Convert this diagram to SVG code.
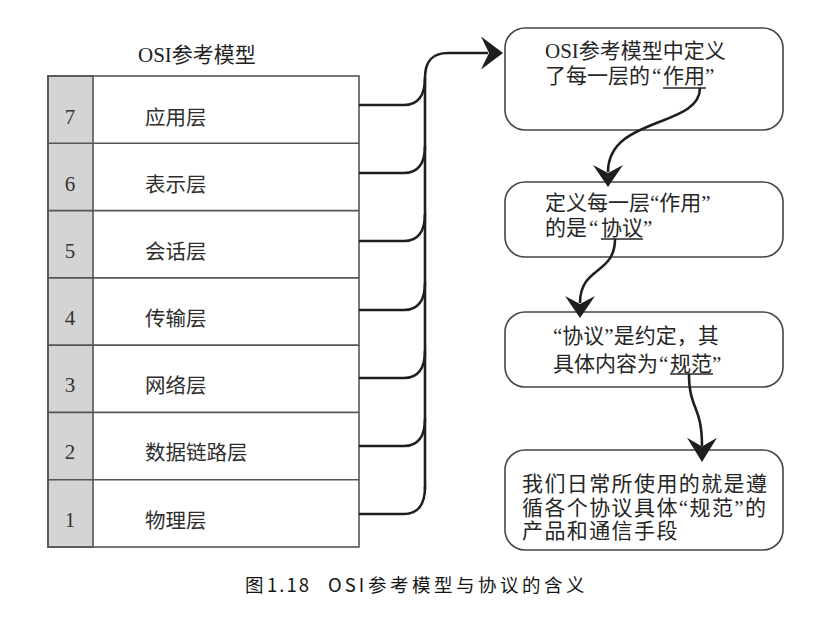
<svg xmlns="http://www.w3.org/2000/svg" xmlns:xlink="http://www.w3.org/1999/xlink" width="826" height="627" viewBox="0 0 826 627">
  <style>
    .bg { fill: #ffffff; }
    .frame { fill: none; stroke: #555; stroke-width: 1.6; }
    .num-col { fill: #d4d4d4; stroke: #555; stroke-width: 1.6; }
    .row-line { stroke: #555; stroke-width: 1.6; }
    .num { font-family: "Liberation Serif", "Noto Sans CJK SC", serif; font-size: 21px; fill: #333; text-anchor: middle; }
    .layer { font-family: "Liberation Serif", "Noto Sans CJK SC", serif; font-size: 20.5px; fill: #2e2e2e; }
    .title { font-family: "Liberation Serif", "Noto Sans CJK SC", serif; font-size: 21px; fill: #222; }
    .box { fill: #fff; stroke: #444; stroke-width: 1.6; }
    .note { font-family: "Liberation Serif", "Noto Sans CJK SC", serif; font-size: 21px; fill: #262626; }
    .note-sans { font-family: "Liberation Serif", "Noto Sans CJK SC", sans-serif; font-size: 21px; fill: #262626; letter-spacing: 1.4px; }
    .uline { stroke: #262626; stroke-width: 1.6; }
    .wire { fill: none; stroke: #1e1e1e; stroke-width: 2.6; }
    .head { fill: #1e1e1e; }
    .caption { font-family: "Noto Sans CJK SC", sans-serif; font-size: 18.5px; fill: #151515; }
  </style>
  <defs>
    <!-- notched arrowhead pointing down, tip at the origin -->
    <path id="arrow-down" class="head" d="M0,0 L-15,-22 L0,-14 L15,-22 Z"/>
  </defs>

  <rect class="bg" x="0" y="0" width="826" height="627"/>

  <!-- OSI layer stack -->
  <g id="osi-model">
    <text class="title" x="138" y="62">OSI参考模型</text>
    <rect class="num-col" x="48" y="76" width="45" height="471"/>
    <rect class="frame" x="48" y="76" width="311" height="471"/>
    <line class="row-line" x1="48" y1="143.3" x2="359" y2="143.3"/>
    <line class="row-line" x1="48" y1="210.6" x2="359" y2="210.6"/>
    <line class="row-line" x1="48" y1="277.9" x2="359" y2="277.9"/>
    <line class="row-line" x1="48" y1="345.1" x2="359" y2="345.1"/>
    <line class="row-line" x1="48" y1="412.4" x2="359" y2="412.4"/>
    <line class="row-line" x1="48" y1="479.7" x2="359" y2="479.7"/>
  </g>
  <g id="layer-7"><text class="num" x="70" y="124">7</text><text class="layer" x="145" y="125">应用层</text></g>
  <g id="layer-6"><text class="num" x="70" y="191">6</text><text class="layer" x="145" y="192">表示层</text></g>
  <g id="layer-5"><text class="num" x="70" y="258">5</text><text class="layer" x="145" y="259">会话层</text></g>
  <g id="layer-4"><text class="num" x="70" y="325">4</text><text class="layer" x="145" y="326">传输层</text></g>
  <g id="layer-3"><text class="num" x="70" y="392">3</text><text class="layer" x="145" y="393">网络层</text></g>
  <g id="layer-2"><text class="num" x="70" y="459">2</text><text class="layer" x="145" y="460">数据链路层</text></g>
  <g id="layer-1"><text class="num" x="70" y="527">1</text><text class="layer" x="145" y="528">物理层</text></g>

  <!-- explanation boxes -->
  <g id="box-role">
    <rect class="box" x="505" y="28" width="278" height="102" rx="20" ry="20"/>
    <text class="note" x="545" y="58">OSI参考模型中定义</text>
    <text class="note" x="545" y="83">了每一层的<tspan x="652">“</tspan><tspan x="663">作用</tspan>”</text>
    <line class="uline" x1="663" y1="88" x2="706" y2="88"/>
  </g>
  <g id="box-protocol">
    <rect class="box" x="505" y="182" width="278" height="75" rx="20" ry="20"/>
    <text class="note" x="545" y="210">定义每一层“作用”</text>
    <text class="note" x="545" y="235">的是<tspan x="589">“</tspan><tspan x="601">协议</tspan>”</text>
    <line class="uline" x1="601" y1="239" x2="643" y2="239"/>
  </g>
  <g id="box-spec">
    <rect class="box" x="505" y="312" width="278" height="75" rx="20" ry="20"/>
    <text class="note" x="553" y="343">“协议”是约定，其</text>
    <text class="note" x="553" y="371">具体内容为<tspan x="659">“</tspan><tspan x="670">规范</tspan>”</text>
    <line class="uline" x1="670" y1="374" x2="713" y2="374"/>
  </g>
  <g id="box-products">
    <rect class="box" x="505" y="450" width="278" height="100" rx="20" ry="20"/>
    <text class="note-sans" x="522" y="491">我们日常所使用的就是遵</text>
    <text class="note-sans" x="522" y="515">循各个协议具体“规范”的</text>
    <text class="note-sans" x="522" y="538">产品和通信手段</text>
  </g>

  <!-- connectors -->
  <g id="connectors">
    <path class="wire" d="M359,105 L404,105 C418,105 425,95 425,78"/>
    <path class="wire" d="M359,173 L404,173 C418,173 425,163 425,146"/>
    <path class="wire" d="M359,241 L404,241 C418,241 425,231 425,214"/>
    <path class="wire" d="M359,310 L404,310 C418,310 425,300 425,283"/>
    <path class="wire" d="M359,378 L404,378 C418,378 425,368 425,351"/>
    <path class="wire" d="M359,446 L404,446 C418,446 425,436 425,419"/>
    <path class="wire" d="M359,514 L404,514 C418,514 425,504 425,487"/>
    <path class="wire" d="M425,489 L425,78 C425,61 432,53 448,53 L488,53"/>
    <use xlink:href="#arrow-down" transform="translate(503,53) rotate(-90) scale(1.1,1)"/>

    <path class="wire" d="M700,88 C700,128 608,116 608,172"/>
    <use xlink:href="#arrow-down" transform="translate(608,187)"/>

    <path class="wire" d="M615,239 C615,275 580,266 580,303"/>
    <use xlink:href="#arrow-down" transform="translate(580,318)"/>

    <path class="wire" d="M689,374 C689,410 702,405 702,446"/>
    <use xlink:href="#arrow-down" transform="translate(702,462) scale(1,1.1)"/>
  </g>

  <!-- figure caption -->
  <text class="caption" y="592"><tspan x="245">图</tspan><tspan x="267" letter-spacing="2">1.18</tspan><tspan x="328" letter-spacing="3">OSI</tspan><tspan x="368" letter-spacing="3.5">参考模型与协议的含义</tspan></text>
</svg>
